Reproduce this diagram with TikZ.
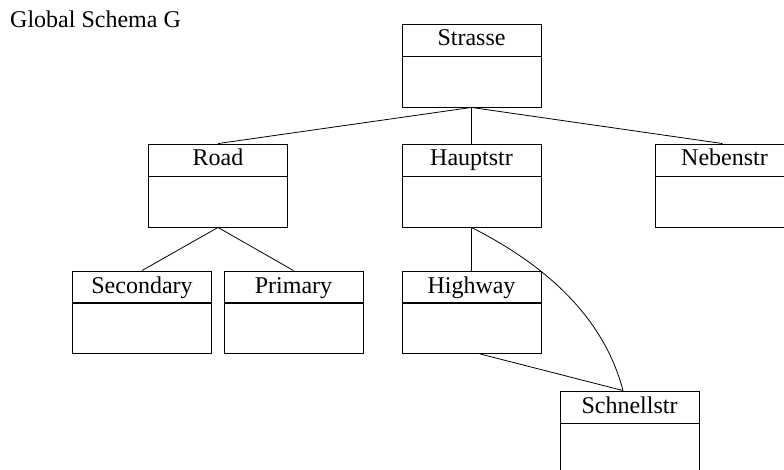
\documentclass[tikz,border=0pt]{standalone}
\usepackage{fontspec}
\setmainfont{Liberation Serif}
\begin{document}
\begin{tikzpicture}[x=1pt,y=-1pt,
  every node/.style={font=\fontsize{24}{28}\selectfont},
  hd/.style={draw, line width=0.9pt, minimum width=139pt, minimum height=32pt, inner sep=0pt, text height=17pt, text depth=5pt},
  bd/.style={draw, line width=0.9pt, minimum width=139pt, minimum height=51pt, inner sep=0pt},
  link/.style={line width=0.8pt}]
\useasboundingbox (0,0) rectangle (784,470);
\node[anchor=base west, inner sep=0pt] (title) at (10,28) {Global Schema G};
% Strasse
\node[hd] (sH) at (471.5,40) {Strasse};
\node[bd] (sB) at (471.5,81.5) {};
% Road
\node[hd] (rH) at (218,160) {Road};
\node[bd] (rB) at (218,201.5) {};
% Hauptstr
\node[hd] (hH) at (471.5,160) {Hauptstr};
\node[bd] (hB) at (471.5,201.5) {};
% Nebenstr
\node[hd] (nH) at (724.5,160) {Nebenstr};
\node[bd] (nB) at (724.5,201.5) {};
% Secondary
\node[hd] (secH) at (142,287) {Secondary};
\node[bd] (secB) at (142,328) {};
% Primary
\node[hd] (pH) at (293.5,287) {Primary};
\node[bd] (pB) at (293.5,328) {};
% Highway
\node[hd] (hwH) at (471.5,287) {Highway};
\node[bd] (hwB) at (471.5,328) {};
% Schnellstr
\node[hd] (schH) at (629.5,407) {Schnellstr};
\node[bd] (schB) at (629.5,448.5) {};
% connectors
\coordinate (schT) at ([xshift=-6.5pt]schH.north);
\draw[link] (sB.south) -- (rH.north);
\draw[link] (sB.south) -- (hH.north);
\draw[link] (sB.south) -- ([xshift=-2pt]nH.north);
\draw[link] (rB.south) -- (secH.north);
\draw[link] (rB.south) -- (pH.north);
\draw[link] (hB.south) -- (hwH.north);
\draw[link] ([xshift=8.5pt]hwB.south) -- (schT);
\draw[link] (hB.south) .. controls +(71,36) and +(-20,-76) .. (schT);
\end{tikzpicture}
\end{document}
